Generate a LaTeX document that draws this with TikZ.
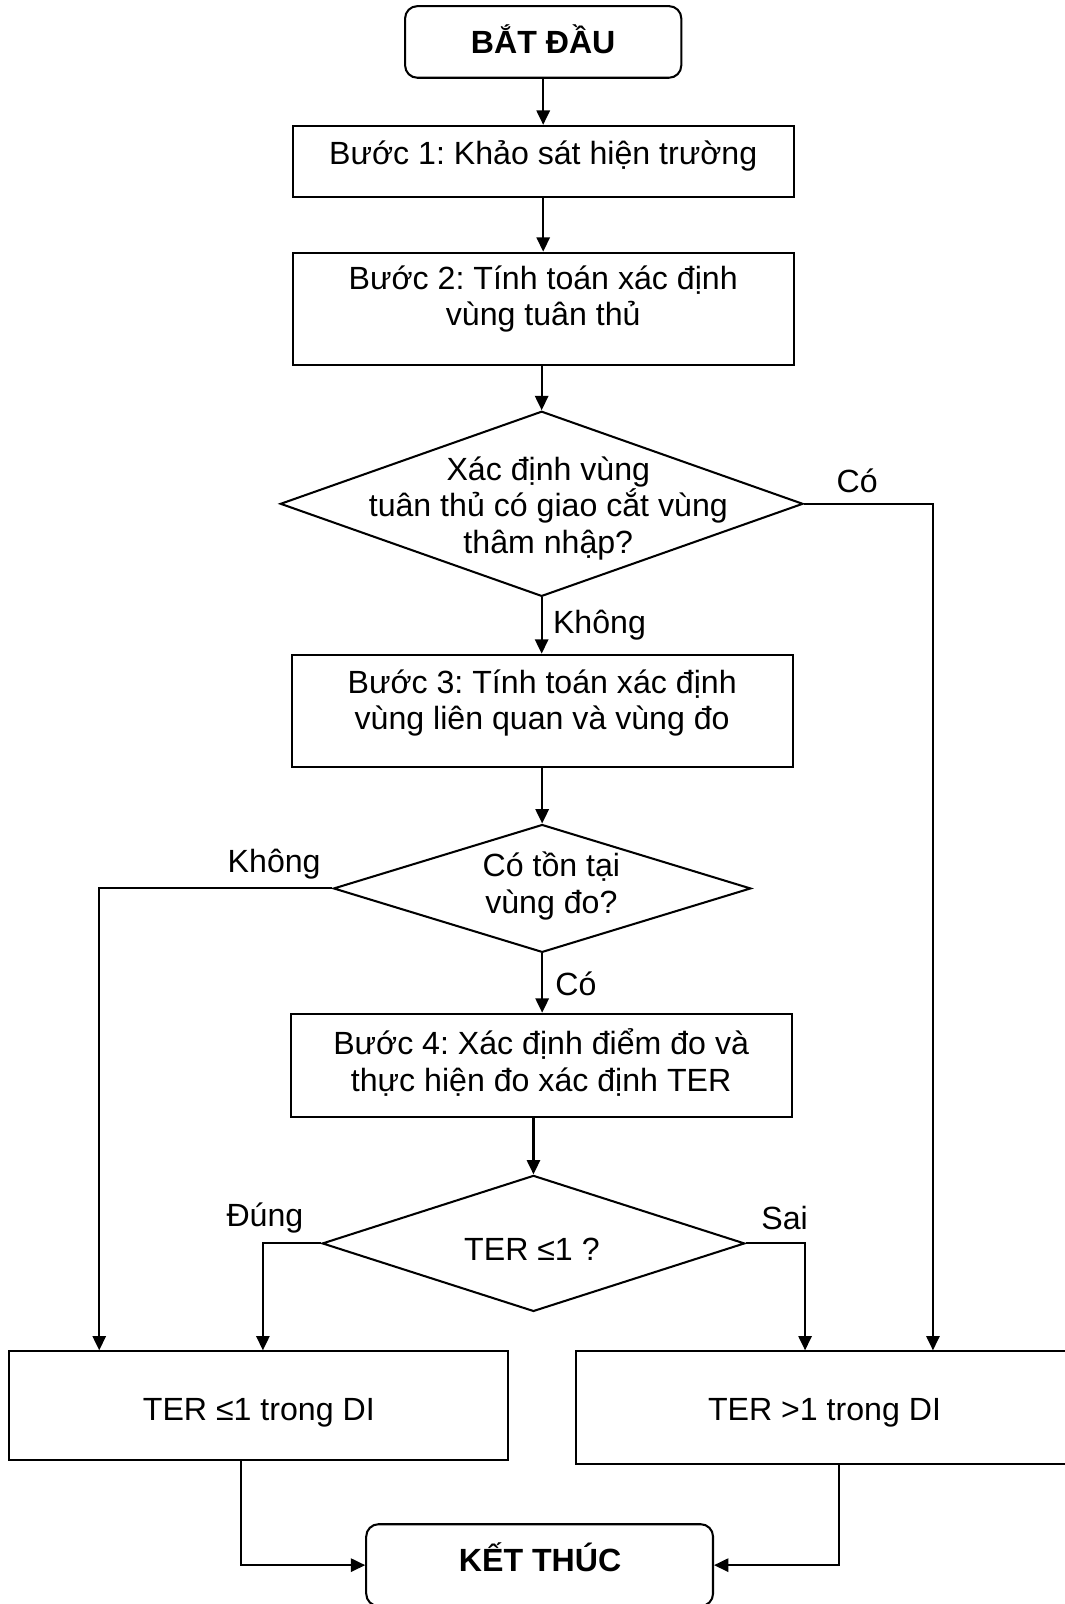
\documentclass[tikz,border=0pt]{standalone}
\usepackage{fontspec}
\setmainfont{Liberation Sans}
\usetikzlibrary{shapes.geometric,arrows.meta}
\frenchspacing
\tikzset{
	box/.style={draw, line width=1pt, inner sep=0pt},
	endbox/.style={box, rounded corners=6pt},
	dec/.style={draw, diamond, aspect=1, line width=1pt, inner sep=0pt},
	txt/.style={align=center, font=\fontsize{15.7}{17.75}\selectfont},
	arr/.style={line width=1pt, -{Triangle[length=7pt,width=6.5pt]}},
	ln/.style={line width=1pt}
}

\begin{document}
\begin{tikzpicture}[x=0.5pt, y=-0.5pt]
			%%%%% START %%%%%
			\useasboundingbox (0, 0) rectangle (1041, 1568);
			
			\node[endbox, minimum width=135pt, minimum height=35pt] (start) at (531, 41) {};
			\node[txt, font=\fontsize{15.7}{17.75}\selectfont\bfseries] (startt) at (531, 38) {BẮT ĐẦU};
			
			\node[box, minimum width=245pt, minimum height=35pt] (b1) at (531, 158) {};
			\node[txt] (b1t) at (531, 152) {Bước 1: Khảo sát hiện trường};
			
			\node[box, minimum width=245pt, minimum height=55pt] (b2) at (531, 302) {};
			\node[txt] (b2t) at (531, 292) {Bước 2: Tính toán xác định\\vùng tuân thủ};
			
			\node[dec, minimum width=255.5pt, minimum height=90.5pt] (d1) at (529.5, 492.5) {};
			\node[txt] (d1t) at (536, 497) {Xác định vùng\\tuân thủ có giao cắt vùng\\thâm nhập?};
			
			\node[box, minimum width=245pt, minimum height=55pt] (b3) at (530, 695) {};
			\node[txt] (b3t) at (530, 687) {Bước 3: Tính toán xác định\\vùng liên quan và vùng đo};
			
			\node[dec, minimum width=204pt, minimum height=62.5pt] (d2) at (530, 868.5) {};
			\node[txt] (d2t) at (539, 866) {Có tồn tại\\vùng đo?};
			
			\node[box, minimum width=245pt, minimum height=50.5pt] (b4) at (529, 1041.5) {};
			\node[txt] (b4t) at (529, 1038.5) {Bước 4: Xác định điểm đo và\\thực hiện đo xác định TER};
			
			\node[dec, minimum width=206.5pt, minimum height=66.5pt] (d3) at (521.5, 1215.5) {};
			\node[txt] (d3t) at (520, 1221) {TER ≤1 ?};
			
			\node[box, minimum width=244pt, minimum height=53pt] (b5) at (253, 1374) {};
			\node[txt] (b5t) at (253, 1381) {TER ≤1 trong DI};
			
			\node[box, minimum width=248.5pt, minimum height=55pt] (b6) at (811.5, 1376) {};
			\node[txt] (b6t) at (806, 1381) {TER >1 trong DI};
			
			\node[endbox, minimum width=169.5pt, minimum height=40pt] (stop) at (527.5, 1530) {};
			\node[txt, font=\fontsize{15.7}{17.75}\selectfont\bfseries] (stopt) at (528, 1522) {KẾT THÚC};
			
			% labels
			\node[txt] (co1) at (838, 470) {Có};
			\node[txt] (khong1) at (586, 611) {Không};
			\node[txt] (khong2) at (268, 845) {Không};
			\node[txt] (co2) at (563, 962) {Có};
			\node[txt] (dung) at (259, 1191) {Đúng};
			\node[txt] (sai) at (767, 1191) {Sai};
			
			% arrows
			\draw[arr] (start.south) -- (start.south |- b1.north);
			\draw[arr] (b1.south) -- (b2.north);
			\draw[arr] (b2.south -| d1.north) -- (d1.north);
			\draw[arr] (d1.south) -- (d1.south |- b3.north);
			\draw[arr] (b3.south) -- (d2.north);
			\draw[arr] (d2.south) -- (d2.south |- b4.north);
			\draw[arr] (b4.south -| d3.north) -- (d3.north);
			
			\draw[arr] (d1.east) -| ([xshift=50.25pt]b6.north);
			\draw[arr] (d2.west) -| ([xshift=-78pt]b5.north);
			\draw[arr] (d3.west) -| ([xshift=2pt]b5.north);
			\draw[arr] (d3.east) -| ([xshift=-12.25pt]b6.north);
			
			\draw[arr] ([xshift=-8.5pt]b5.south) |- (stop.west);
			\draw[arr] ([xshift=4.25pt]b6.south) |- (stop.east);
			%%%%% END %%%%%
\end{tikzpicture}
\end{document}
